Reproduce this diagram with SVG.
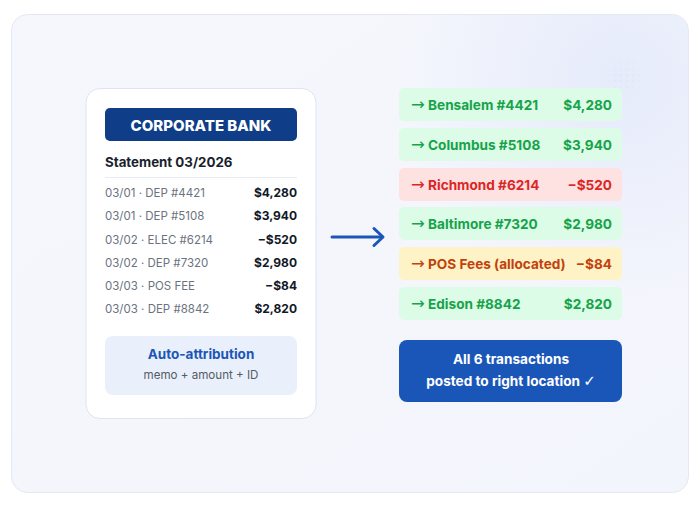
<svg xmlns="http://www.w3.org/2000/svg" width="700" height="508" viewBox="0 0 700 508">
<defs>
<linearGradient id="bg" x1="0" y1="0" x2="1" y2="1">
<stop offset="0" stop-color="#f5f7fc"/>
<stop offset="1" stop-color="#f3f5fc"/>
</linearGradient>
<radialGradient id="glow" cx="620" cy="80" r="220" gradientUnits="userSpaceOnUse">
<stop offset="0" stop-color="#e6ebfb"/>
<stop offset="1" stop-color="#e6ebfb" stop-opacity="0"/>
</radialGradient>
<pattern id="dots" width="6" height="6" patternUnits="userSpaceOnUse">
<circle cx="3" cy="3" r="0.7" fill="#c9d1e6"/>
</pattern>
<radialGradient id="dotmask" cx="0.5" cy="0.5" r="0.5">
<stop offset="0" stop-color="#fff" stop-opacity="0.8"/>
<stop offset="1" stop-color="#fff" stop-opacity="0"/>
</radialGradient>
<mask id="dm"><rect x="605" y="58" width="40" height="36" fill="url(#dotmask)"/></mask>
<style>
text{font-family:Inter,"Liberation Sans",sans-serif}
.ar{font-family:"DejaVu Sans",sans-serif;font-weight:400;font-size:16.5px}
.lbl{font-size:11.5px;fill:#6b7280}
.amt{font-size:12px;font-weight:700;fill:#111827;text-anchor:end}
.rt{font-size:13.6px;font-weight:700}
.ra{font-size:13.6px;font-weight:700;text-anchor:end}
.g{fill:#16a34a}.r{fill:#dc2626}.o{fill:#c2410c}
.wt{font-size:13.6px;font-weight:700;fill:#ffffff;text-anchor:middle}
</style>
</defs>
<rect width="700" height="508" fill="#ffffff"/>
<rect x="11.5" y="14.5" width="677" height="478" rx="16" fill="url(#bg)" stroke="#e3e8f2"/>
<rect x="12" y="15" width="676" height="477" rx="16" fill="url(#glow)"/>
<rect x="605" y="58" width="40" height="36" fill="url(#dots)" mask="url(#dm)"/>

<g id="bank-card">
<rect x="86" y="88.5" width="230" height="330" rx="14" fill="#ffffff" stroke="#dde4ef"/>
<rect x="105" y="108" width="192" height="33" rx="5" fill="#0f3d87"/>
<text x="201" y="131" text-anchor="middle" font-size="15" font-weight="800" fill="#ffffff">CORPORATE BANK</text>
<text x="105" y="167" font-size="13.3" font-weight="700" fill="#1a1f2e">Statement 03/2026</text>
<line x1="105" y1="177.5" x2="297" y2="177.5" stroke="#e8ecf2"/>
<text class="lbl" x="105" y="197">03/01 · DEP #4421</text><text class="amt" x="297" y="197">$4,280</text>
<text class="lbl" x="105" y="220">03/01 · DEP #5108</text><text class="amt" x="297" y="220">$3,940</text>
<text class="lbl" x="105" y="244">03/02 · ELEC #6214</text><text class="amt" x="297" y="244">−$520</text>
<text class="lbl" x="105" y="267">03/02 · DEP #7320</text><text class="amt" x="297" y="267">$2,980</text>
<text class="lbl" x="105" y="290">03/03 · POS FEE</text><text class="amt" x="297" y="290">−$84</text>
<text class="lbl" x="105" y="313">03/03 · DEP #8842</text><text class="amt" x="297" y="313">$2,820</text>
</g>

<g id="auto-attribution">
<rect x="105" y="336" width="192" height="59" rx="8" fill="#e9f0fb"/>
<text x="201" y="359" text-anchor="middle" font-size="13.5" font-weight="700" fill="#1a56b8">Auto-attribution</text>
<text x="201" y="379" text-anchor="middle" font-size="11.6" fill="#555b66">memo + amount + ID</text>
</g>

<g id="connectors">
<line x1="332" y1="237" x2="382" y2="237" stroke="#1a56b8" stroke-width="3" stroke-linecap="round"/>
<polyline points="374,228.5 383,237 374,245.5" fill="none" stroke="#1a56b8" stroke-width="3" stroke-linecap="round" stroke-linejoin="round"/>
</g>

<g id="row-bensalem">
<rect x="399" y="88" width="223" height="33" rx="5" fill="#dcfce7"/>
<text class="rt g" x="411" y="109.5"><tspan class="ar">→</tspan> Bensalem #4421</text><text class="ra g" x="612" y="109.5">$4,280</text>
</g>
<g id="row-columbus">
<rect x="399" y="128" width="223" height="33" rx="5" fill="#dcfce7"/>
<text class="rt g" x="411" y="149.5"><tspan class="ar">→</tspan> Columbus #5108</text><text class="ra g" x="612" y="149.5">$3,940</text>
</g>
<g id="row-richmond">
<rect x="399" y="168" width="223" height="33" rx="5" fill="#fee2e2"/>
<text class="rt r" x="411" y="189.5"><tspan class="ar">→</tspan> Richmond #6214</text><text class="ra r" x="612" y="189.5">−$520</text>
</g>
<g id="row-baltimore">
<rect x="399" y="207" width="223" height="33" rx="5" fill="#dcfce7"/>
<text class="rt g" x="411" y="228.5"><tspan class="ar">→</tspan> Baltimore #7320</text><text class="ra g" x="612" y="228.5">$2,980</text>
</g>
<g id="row-pos">
<rect x="399" y="247" width="223" height="33" rx="5" fill="#fef3c7"/>
<text class="rt o" x="411" y="268.5"><tspan class="ar">→</tspan> POS Fees (allocated)</text><text class="ra o" x="612" y="268.5">−$84</text>
</g>
<g id="row-edison">
<rect x="399" y="287" width="223" height="33" rx="5" fill="#dcfce7"/>
<text class="rt g" x="411" y="308.5"><tspan class="ar">→</tspan> Edison #8842</text><text class="ra g" x="612" y="308.5">$2,820</text>
</g>

<g id="summary">
<rect x="399" y="340" width="223" height="62" rx="8" fill="#1a56b8"/>
<text class="wt" x="511" y="363.5">All 6 transactions</text>
<text class="wt" x="511" y="386">posted to right location <tspan font-family="DejaVu Sans" font-size="15" font-weight="700">✓</tspan></text>
</g>
</svg>
